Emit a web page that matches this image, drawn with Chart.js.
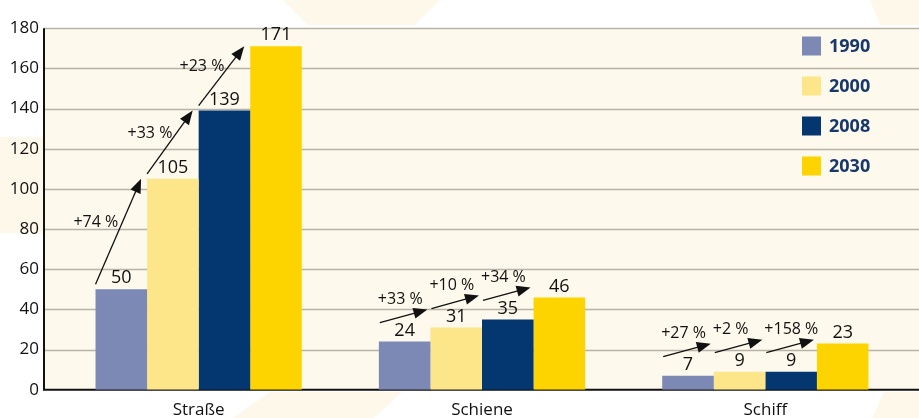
<!DOCTYPE html>
<html>
<head>
<meta charset="utf-8">
<script src="https://cdn.jsdelivr.net/npm/chart.js@4/dist/chart.umd.min.js"></script>
<style>
  html, body { margin: 0; padding: 0; background: #fff; }
  canvas { display: block; }
</style>
</head>
<body>
<canvas id="chart" width="919" height="418"></canvas>
<script>
const categories = ["Straße", "Schiene", "Schiff"];
const years = ["1990", "2000", "2008", "2030"];
const values1990 = [50, 24, 7];
const values2000 = [105, 31, 9];
const values2008 = [139, 35, 9];
const values2030 = [171, 46, 23];
const changes = [
    ["+74 %", "+33 %", "+23 %"],
    ["+33 %", "+10 %", "+34 %"],
    ["+27 %", "+2 %", "+158 %"],
];
const yMax = 180;
const yStep = 20;

const colors = ["#7b89b4", "#fde58a", "#04366f", "#fdd400"];
const FONT = "'Open Sans', 'DejaVu Sans', sans-serif";

// backdrop: white page, faint cream bands, cream plot field, grid and axes
const backdrop = {
    id: "backdrop",
    beforeDraw(chart) {
        const { ctx, width } = chart;
        const y = chart.scales.y;
        const left = 44;
        ctx.save();
        ctx.fillStyle = "#fff";
        ctx.fillRect(0, 0, width, chart.height);

        ctx.fillStyle = "#fdf8e9";
        const bands = [
            [[0, 137], [44, 137], [44, 233], [0, 233]],
            [[283, 0], [440, 0], [415, 25], [308, 25]],
            [[270, 392], [402, 392], [374, 418], [233, 418]],
            [[884, 392], [919, 392], [919, 418], [872, 418]],
            [[870, 0], [919, 0], [919, 25], [880, 25]],
        ];
        bands.forEach((b) => {
            ctx.beginPath();
            b.forEach(([px, py], i) => (i ? ctx.lineTo(px, py) : ctx.moveTo(px, py)));
            ctx.closePath();
            ctx.fill();
        });

        const top = y.getPixelForValue(yMax);
        const bottom = y.getPixelForValue(0);
        ctx.fillStyle = "#fdf9ec";
        ctx.fillRect(left, top, width - left, bottom - top);

        ctx.strokeStyle = "#b7b3a8";
        ctx.lineWidth = 1.5;
        y.ticks.forEach((t) => {
            if (t.value === 0) return;
            const py = Math.round(y.getPixelForValue(t.value)) + 0.5;
            ctx.beginPath();
            ctx.moveTo(left, py);
            ctx.lineTo(width, py);
            ctx.stroke();
        });

        ctx.strokeStyle = "#111";
        ctx.lineWidth = 2;
        ctx.beginPath();
        ctx.moveTo(left, top);
        ctx.lineTo(left, bottom);
        ctx.lineTo(width, bottom);
        ctx.stroke();
        ctx.restore();
    },
};

function arrow(ctx, x1, y1, x2, y2) {
    const a = Math.atan2(y2 - y1, x2 - x1);
    const len = 14, half = 5.5;
    ctx.beginPath();
    ctx.moveTo(x1, y1);
    ctx.lineTo(x2 - Math.cos(a) * len * 0.8, y2 - Math.sin(a) * len * 0.8);
    ctx.stroke();
    ctx.beginPath();
    ctx.moveTo(x2, y2);
    ctx.lineTo(x2 - Math.cos(a) * len + Math.sin(a) * half, y2 - Math.sin(a) * len - Math.cos(a) * half);
    ctx.lineTo(x2 - Math.cos(a) * len - Math.sin(a) * half, y2 - Math.sin(a) * len + Math.cos(a) * half);
    ctx.closePath();
    ctx.fill();
}

// value labels, growth arrows and legend
const annotations = {
    id: "annotations",
    afterDatasetsDraw(chart) {
        const { ctx } = chart;
        ctx.save();
        ctx.fillStyle = "#111";
        ctx.textAlign = "center";
        ctx.textBaseline = "middle";
        ctx.font = "18px " + FONT;
        chart.data.datasets.forEach((ds, d) => {
            chart.getDatasetMeta(d).data.forEach((bar, i) => {
                ctx.fillText(String(ds.data[i]), bar.x, bar.y - 11);
            });
        });

        ctx.strokeStyle = "#111";
        ctx.lineWidth = 1.3;
        ctx.font = "16px " + FONT;
        categories.forEach((c, i) => {
            for (let d = 0; d < 3; d++) {
                const a = chart.getDatasetMeta(d).data[i];
                const b = chart.getDatasetMeta(d + 1).data[i];
                const la = a.x - a.width / 2;
                const lb = b.x - b.width / 2;
                const label = changes[i][d];
                if (a.y - b.y > 40) {
                    const x1 = la, y1 = a.y - 5, x2 = lb - 6, y2 = b.y;
                    arrow(ctx, x1, y1, x2, y2);
                    const ty = (y1 + y2) / 2 - 9;
                    const tx = x1 + (y1 - ty) / (y1 - y2) * (x2 - x1);
                    ctx.textAlign = "right";
                    ctx.fillText(label, tx - 4, ty);
                } else {
                    const x1 = la + 1, y1 = a.y - 19, x2 = lb - 3, y2 = y1 - 13;
                    arrow(ctx, x1, y1, x2, y2);
                    ctx.textAlign = "left";
                    ctx.fillText(label, x1 - 2, y1 - 23);
                }
            }
        });

        ctx.textAlign = "left";
        ctx.font = "bold 18px " + FONT;
        chart.data.datasets.forEach((ds, d) => {
            const cy = 46 + d * 40;
            ctx.fillStyle = ds.backgroundColor;
            ctx.fillRect(802, cy - 9.5, 19, 19);
            ctx.fillStyle = "#17386c";
            ctx.fillText(ds.label, 829, cy + 1);
        });
        ctx.restore();
    },
};

const yearSeries = [values1990, values2000, values2008, values2030];

new Chart(document.getElementById("chart"), {
    type: "bar",
    data: {
        labels: categories,
        datasets: years.map((yr, k) => ({
            label: yr,
            data: yearSeries[k],
            backgroundColor: colors[k],
            borderWidth: 0,
            categoryPercentage: 0.728,
            barPercentage: 1,
        })),
    },
    options: {
        responsive: false,
        animation: false,
        devicePixelRatio: 1,
        layout: { padding: { top: 25, right: 12, left: 0, bottom: 0 } },
        plugins: { legend: { display: false }, tooltip: { enabled: false } },
        scales: {
            x: {
                grid: { display: false, drawTicks: false },
                border: { display: false },
                ticks: { color: "#111", font: { family: FONT, size: 17 }, padding: 10 },
                afterFit: (s) => { s.height = 28; },
            },
            y: {
                min: 0,
                max: yMax,
                grid: { display: false, drawTicks: false },
                border: { display: false },
                ticks: { stepSize: yStep, color: "#111", font: { family: FONT, size: 17 }, padding: 18 },
                afterFit: (s) => { s.width = 57; },
            },
        },
    },
    plugins: [backdrop, annotations],
});
</script>
</body>
</html>
